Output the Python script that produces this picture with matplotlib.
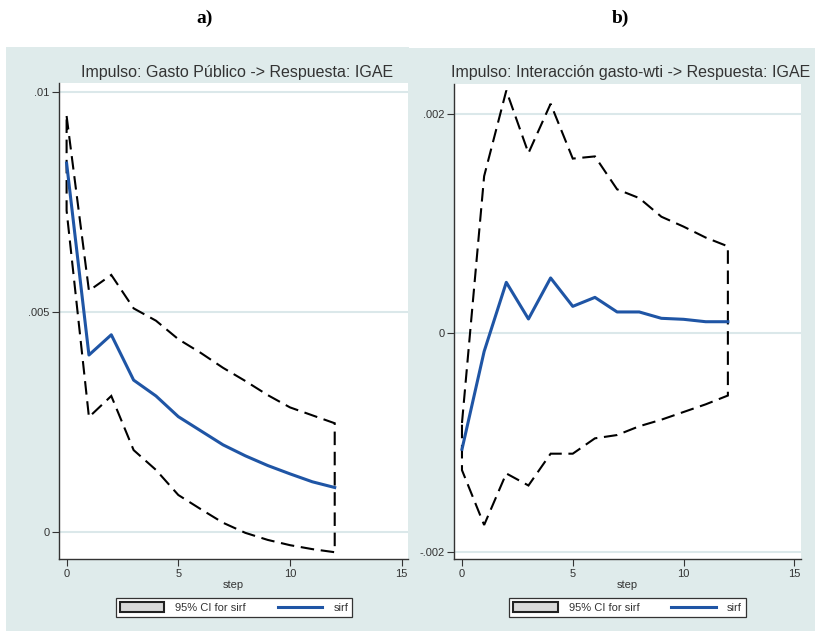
import numpy as np
import matplotlib
matplotlib.use("Agg")
import matplotlib.pyplot as plt
from matplotlib.patches import Rectangle, Patch
from matplotlib.lines import Line2D

plt.rcParams['font.family'] = ['Liberation Sans', 'DejaVu Sans']

# Step horizon
steps = np.arange(0, 13)

# Panel a) Impulso: Gasto Publico -> Respuesta: IGAE
sirf_a = [0.00838, 0.00402, 0.00448, 0.00345, 0.00309, 0.00262, 0.00230,
          0.00198, 0.00173, 0.00151, 0.00132, 0.00114, 0.00101]
upper_a = [0.00945, 0.00548, 0.00584, 0.00508, 0.00480, 0.00438, 0.00407,
           0.00373, 0.00343, 0.00311, 0.00283, 0.00265, 0.00247]
lower_a = [0.00730, 0.00261, 0.00309, 0.00186, 0.00141, 0.00084, 0.00052,
           0.00021, -0.00002, -0.00018, -0.00030, -0.00039, -0.00046]

# Panel b) Impulso: Interaccion gasto-wti -> Respuesta: IGAE
sirf_b = [-0.00106, -0.000168, 0.000462, 0.000128, 0.000502, 0.000243, 0.000325,
          0.000192, 0.000192, 0.000134, 0.000125, 0.000103, 0.000103]
upper_b = [-0.00082, 0.00143, 0.00221, 0.00164, 0.00209, 0.00159, 0.00161,
           0.00131, 0.00123, 0.00106, 0.00097, 0.00087, 0.00079]
lower_b = [-0.00125, -0.00175, -0.00128, -0.00139, -0.00110, -0.00110, -0.00096,
           -0.00093, -0.00085, -0.00079, -0.00072, -0.00065, -0.00057]

titles = ["Impulso: Gasto Público -> Respuesta: IGAE",
          "Impulso: Interacción gasto-wti -> Respuesta: IGAE"]
yticks_a = [0, 0.005, 0.01]
yticklabels_a = ["0", ".005", ".01"]
yticks_b = [-0.002, 0, 0.002]
yticklabels_b = ["-.002", "0", ".002"]
xticks = [0, 5, 10, 15]

BG = "#dfebeb"
GRID = "#dbe8ea"
BLUE = "#1f55a5"
W, H = 815, 631

fig = plt.figure(figsize=(8.15, 6.31), dpi=100)


def px_rect(x0, y0, x1, y1):
    # pixel box (top-left origin) -> figure fraction [l, b, w, h]
    return [x0 / W, 1 - y1 / H, (x1 - x0) / W, (y1 - y0) / H]


# panel backgrounds
for (x0, y0, x1, y1) in [(6, 47, 409, 631), (409, 48, 815, 631)]:
    l, b, w, h = px_rect(x0, y0, x1, y1)
    fig.patches.append(Rectangle((l, b), w, h, transform=fig.transFigure,
                                 facecolor=BG, edgecolor="none", zorder=-5))

ax1 = fig.add_axes(px_rect(59, 83, 408, 559))
ax2 = fig.add_axes(px_rect(454, 84, 801, 559))

panels = [
    (ax1, sirf_a, upper_a, lower_a, yticks_a, yticklabels_a, (-0.000614, 0.0102), (-0.34, 15.28)),
    (ax2, sirf_b, upper_b, lower_b, yticks_b, yticklabels_b, (-0.00206, 0.00227), (-0.36, 15.3)),
]

for ax, sirf, up, lo, yt, ytl, ylim, xlim in panels:
    ax.set_zorder(2)
    ax.set_facecolor("white")
    # CI band drawn as a dashed outline (closed polygon)
    xs = np.concatenate([steps, steps[::-1]])
    ys = np.concatenate([up, lo[::-1]])
    ax.fill(xs, ys, facecolor="none", edgecolor="black", linewidth=1.5,
            linestyle=(0, (6.5, 3.2)), zorder=3)
    ax.plot(steps, sirf, color=BLUE, linewidth=2.2, zorder=4)
    ax.set_xlim(*xlim)
    ax.set_ylim(*ylim)
    ax.set_yticks(yt)
    ax.set_yticklabels(ytl)
    ax.set_xticks(xticks)
    ax.grid(axis="y", color=GRID, linewidth=1.5, zorder=0)
    ax.set_axisbelow(True)
    for s in ["top", "right"]:
        ax.spines[s].set_visible(False)
    for s in ["left", "bottom"]:
        ax.spines[s].set_color("#333333")
        ax.spines[s].set_linewidth(1.0)
    ax.tick_params(axis="both", colors="#333333", labelsize=8, length=5,
                   width=0.8, direction="out", pad=2, labelcolor="#333333")
    ax.set_xlabel("step", fontsize=8, color="#333333", labelpad=1)

# panel titles
fig.text(237 / W, 1 - 73 / H, titles[0], ha="center", va="center",
         fontsize=11.5, color="#333333")
fig.text(631 / W, 1 - 73 / H, titles[1], ha="center", va="center",
         fontsize=11.5, color="#333333")

# a) / b) labels
for lab, x in [("a)", 205), ("b)", 620)]:
    fig.text(x / W, 1 - 18 / H, lab, ha="center", va="center", fontsize=14,
             fontweight="bold", family="Liberation Serif")

# legends
handles = [Patch(facecolor="#d9d9d9", edgecolor="#222222", linewidth=1.5),
           Line2D([0], [0], color=BLUE, linewidth=2.2)]
labels = ["95% CI for sirf", "sirf"]
for cx in [(114 + 354) / 2, (507 + 748) / 2]:
    leg = fig.legend(handles, labels, loc="center", ncol=2,
                     bbox_to_anchor=(cx / W, 1 - 607.5 / H),
                     bbox_transform=fig.transFigure, fontsize=8,
                     frameon=True, fancybox=False, edgecolor="#333333",
                     facecolor="white", framealpha=1.0,
                     handlelength=4.0, handleheight=1.0, handletextpad=1.0,
                     columnspacing=2.9, borderpad=0.35)
    leg.set_zorder(5)
    leg.get_frame().set_linewidth(0.9)
    for t in leg.get_texts():
        t.set_color("#333333")

fig.savefig("out.png", dpi=100)
